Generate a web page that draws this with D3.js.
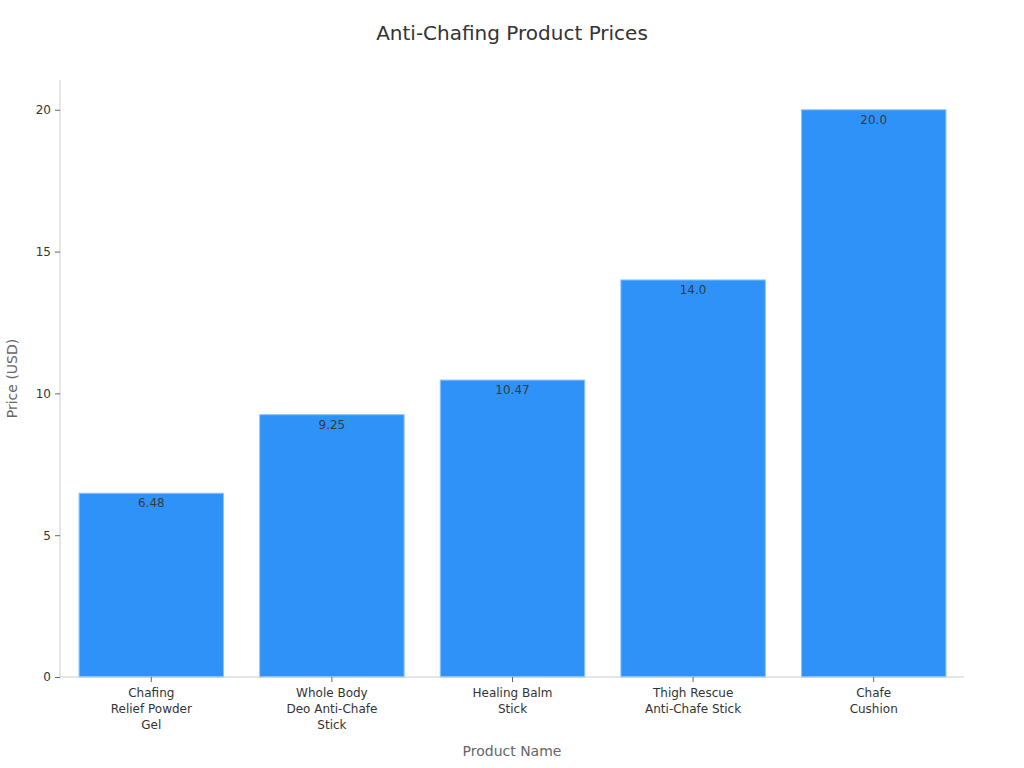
<!DOCTYPE html>
<html>
<head>
<meta charset="utf-8">
<script src="https://cdn.jsdelivr.net/npm/d3@7"></script>
<style>
  body { margin: 0; background: #fff; }
  text { font-family: "DejaVu Sans", sans-serif; }
</style>
</head>
<body>
<div class="chart"></div>
<script>
var products = [
    ["Chafing", "Relief Powder", "Gel"],
    ["Whole Body", "Deo Anti-Chafe", "Stick"],
    ["Healing Balm", "Stick"],
    ["Thigh Rescue", "Anti-Chafe Stick"],
    ["Chafe", "Cushion"]
];
var prices = [6.48, 9.25, 10.47, 14.0, 20.0];
var priceLabels = ["6.48", "9.25", "10.47", "14.0", "20.0"];
var yTicks = [0, 5, 10, 15, 20];

var width = 1024,
    height = 768,
    margin = {top: 80, right: 60, bottom: 91, left: 60};

var svg = d3.select(".chart").append("svg")
    .attr("width", width)
    .attr("height", height);

var keys = d3.range(products.length);

// band range nudged 1px right of the axis line
var x = d3.scaleBand()
    .domain(keys)
    .range([margin.left + 1, width - margin.right])
    .paddingInner(0.2)
    .paddingOuter(0.1);

var y = d3.scaleLinear()
    .domain([0, 21.05])
    .range([height - margin.bottom, margin.top]);

// title
svg.append("text")
    .attr("x", width / 2)
    .attr("y", 40)
    .attr("text-anchor", "middle")
    .attr("font-size", 20)
    .attr("fill", "#333")
    .text("Anti-Chafing Product Prices");

// bars
svg.selectAll("rect.bar")
    .data(prices)
    .enter().append("rect")
    .attr("class", "bar")
    .attr("x", function (d, i) { return x(i); })
    .attr("y", function (d) { return y(d); })
    .attr("width", x.bandwidth())
    .attr("height", function (d) { return y(0) - y(d); })
    .attr("fill", "#2f92f8")
    .attr("stroke", "#8cc4fb")
    .attr("stroke-width", 1);

// value labels
svg.selectAll("text.val")
    .data(prices)
    .enter().append("text")
    .attr("class", "val")
    .attr("x", function (d, i) { return x(i) + x.bandwidth() / 2; })
    .attr("y", function (d) { return y(d) + 14; })
    .attr("text-anchor", "middle")
    .attr("font-size", 12)
    .attr("fill", "#3a3a3a")
    .text(function (d, i) { return priceLabels[i]; });

// y axis
var yAxis = svg.append("g")
    .attr("transform", "translate(" + margin.left + ",0)")
    .call(d3.axisLeft(y).tickValues(yTicks).tickSize(5).tickPadding(4));
yAxis.select(".domain").attr("stroke", "#ccc").attr("d", "M0," + y(0) + "V" + margin.top);
yAxis.selectAll(".tick line").attr("stroke", "#666");
yAxis.selectAll(".tick text").attr("font-size", 12).attr("fill", "#333")
    .attr("font-family", "DejaVu Sans, sans-serif");

// x axis
var xAxis = svg.append("g")
    .attr("transform", "translate(0," + y(0) + ")")
    .call(d3.axisBottom(x).tickSize(5).tickFormat(""));
xAxis.select(".domain").attr("stroke", "#ccc")
    .attr("d", "M" + margin.left + ",0H" + (width - margin.right));
xAxis.selectAll(".tick line").attr("stroke", "#666");

xAxis.selectAll(".tick").each(function (d) {
    var t = d3.select(this).append("text")
        .attr("text-anchor", "middle")
        .attr("font-size", 12)
        .attr("fill", "#333")
        .attr("y", 20);
    products[d].forEach(function (line, j) {
        t.append("tspan").attr("x", 0).attr("y", 20 + j * 16).text(line);
    });
});

// axis titles
svg.append("text")
    .attr("x", (margin.left + width - margin.right) / 2)
    .attr("y", 756)
    .attr("text-anchor", "middle")
    .attr("font-size", 14)
    .attr("fill", "#666")
    .text("Product Name");

svg.append("text")
    .attr("transform", "translate(17," + ((margin.top + height - margin.bottom) / 2) + ") rotate(-90)")
    .attr("text-anchor", "middle")
    .attr("font-size", 14)
    .attr("fill", "#666")
    .text("Price (USD)");
</script>
</body>
</html>
